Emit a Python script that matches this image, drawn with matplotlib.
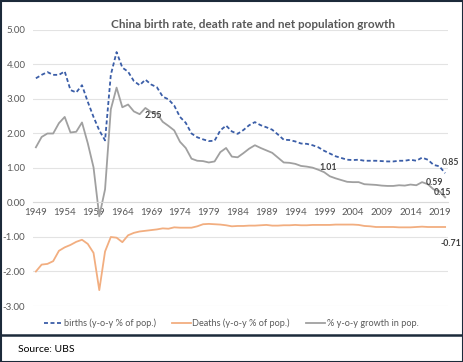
import numpy as np
import matplotlib
matplotlib.use("Agg")
import matplotlib.pyplot as plt
from matplotlib.patches import Rectangle
from matplotlib.lines import Line2D

plt.rcParams['font.family'] = ['Lato', 'DejaVu Sans']

years = list(range(1949, 2021))

# birth rate, % of population
births = [3.60, 3.70, 3.78, 3.70, 3.70, 3.80, 3.26, 3.19, 3.40, 2.92,
          2.48, 2.09, 1.80, 3.70, 4.36, 3.91, 3.79, 3.52, 3.40, 3.56,
          3.42, 3.34, 3.07, 2.99, 2.81, 2.48, 2.31, 2.00, 1.89, 1.83,
          1.78, 1.79, 2.09, 2.23, 2.06, 1.99, 2.10, 2.24, 2.33, 2.24,
          2.18, 2.11, 1.97, 1.82, 1.81, 1.77, 1.71, 1.70, 1.66, 1.60,
          1.50, 1.42, 1.34, 1.29, 1.24, 1.23, 1.24, 1.21, 1.21, 1.21,
          1.20, 1.19, 1.19, 1.21, 1.21, 1.24, 1.21, 1.30, 1.24, 1.09,
          1.05, 0.85]

# death rate, % of population (negative)
deaths = [-2.00, -1.80, -1.78, -1.70, -1.40, -1.30, -1.23, -1.14, -1.08, -1.20,
          -1.46, -2.54, -1.42, -1.00, -1.02, -1.15, -0.95, -0.88, -0.84, -0.82,
          -0.80, -0.78, -0.75, -0.76, -0.72, -0.73, -0.73, -0.73, -0.69, -0.63,
          -0.62, -0.63, -0.64, -0.66, -0.69, -0.68, -0.68, -0.67, -0.67, -0.66,
          -0.65, -0.67, -0.67, -0.66, -0.66, -0.65, -0.66, -0.66, -0.65, -0.65,
          -0.65, -0.65, -0.64, -0.64, -0.64, -0.64, -0.65, -0.68, -0.69, -0.71,
          -0.71, -0.71, -0.71, -0.72, -0.72, -0.72, -0.71, -0.70, -0.71, -0.71,
          -0.71, -0.71]

# net population growth, %
growth = [1.60, 1.90, 2.00, 2.00, 2.30, 2.48, 2.03, 2.05, 2.32, 1.72,
          1.02, -0.40, 0.38, 2.70, 3.33, 2.76, 2.84, 2.64, 2.56, 2.74,
          2.62, 2.58, 2.34, 2.22, 2.09, 1.76, 1.58, 1.27, 1.21, 1.20,
          1.16, 1.19, 1.46, 1.58, 1.33, 1.31, 1.43, 1.56, 1.66, 1.58,
          1.51, 1.44, 1.30, 1.16, 1.15, 1.12, 1.06, 1.04, 1.01, 0.95,
          0.88, 0.76, 0.70, 0.65, 0.60, 0.59, 0.59, 0.53, 0.52, 0.51,
          0.49, 0.48, 0.48, 0.50, 0.49, 0.52, 0.50, 0.59, 0.53, 0.38,
          0.33, 0.15]

# (series, year, text, dx px, dy px)
labels = [('growth', 1969, '2.55', 2, -3),
          ('growth', 1999, '1.01', 4, 5),
          ('growth', 2016, '0.59', 12, 0),
          ('growth', 2020, '0.15', -3, 5),
          ('births', 2020, '0.85', 5, 11),
          ('deaths', 2020, '-0.71', 6, -17)]

W, H = 464, 362
fig = plt.figure(figsize=(W / 100, H / 100), dpi=100)
ax = fig.add_axes([33 / W, 1 - 306 / H, (448 - 33) / W, (306 - 30) / H])

x = np.arange(len(years))
series = {'births': births, 'deaths': deaths, 'growth': growth}

ax.plot(x, births, color='#3b5ea8', lw=1.3, ls=(0, (2.2, 1.4)), label='births (y-o-y % of pop.)')
ax.plot(x, deaths, color='#f2ae80', lw=1.3, label='Deaths (y-o-y % of pop.)')
ax.plot(x, growth, color='#a0a0a0', lw=1.3, label='% y-o-y growth in pop.')

for s, yr, txt, dx, dy in labels:
    i = years.index(yr)
    ax.annotate(txt, (i, series[s][i]), xytext=(dx, dy), textcoords='offset pixels',
                ha='center', va='center', fontsize=6.3, color='#404040', fontweight='bold')

ax.set_xlim(-0.5, len(years) - 0.5)
ax.set_ylim(-3, 5)
yt = np.arange(-3, 6, 1)
ax.set_yticks(yt)
ax.set_yticklabels([f'{v:.2f}'.replace('\u2212', '-') for v in yt])
tick_idx = list(range(0, len(years), 5))
ax.set_xticks(tick_idx)
ax.set_xticklabels([str(years[i]) for i in tick_idx])

for sp in ['top', 'right', 'left']:
    ax.spines[sp].set_visible(False)
ax.spines['bottom'].set_position(('data', 0))
ax.spines['bottom'].set_color('#d9d9d9')
ax.grid(axis='y', color='#e3e3e3', lw=0.8)
ax.set_axisbelow(True)
ax.tick_params(axis='both', length=0, labelsize=7, labelcolor='#595959')
ax.tick_params(axis='y', pad=5.5)
ax.tick_params(axis='x', pad=4)

fig.text(253 / W, 1 - 25 / H, 'China birth rate, death rate and net population growth',
         ha='center', va='center', fontsize=8.5, fontweight='bold', color='#595959')

fig.legend(loc='center', bbox_to_anchor=(231 / W, 1 - 323 / H), ncol=3, frameon=False,
           fontsize=6.6, labelcolor='#595959', handlelength=2.0, handletextpad=0.2,
           columnspacing=1.8)

fig.text(18 / W, 1 - 350 / H, 'Source: UBS', ha='left', va='center', fontsize=7.5, color='black')

# panel borders
fig.add_artist(Rectangle((0.5 / W, 0.5 / H), (W - 1.5) / W, (H - 1.5) / H, transform=fig.transFigure,
                         fill=False, ec='#1c2a3a', lw=1.5))
fig.add_artist(Line2D([0, 1], [1 - 335 / H] * 2, transform=fig.transFigure, color='#1c2a3a', lw=1.8))

fig.savefig('out.png', dpi=100)
